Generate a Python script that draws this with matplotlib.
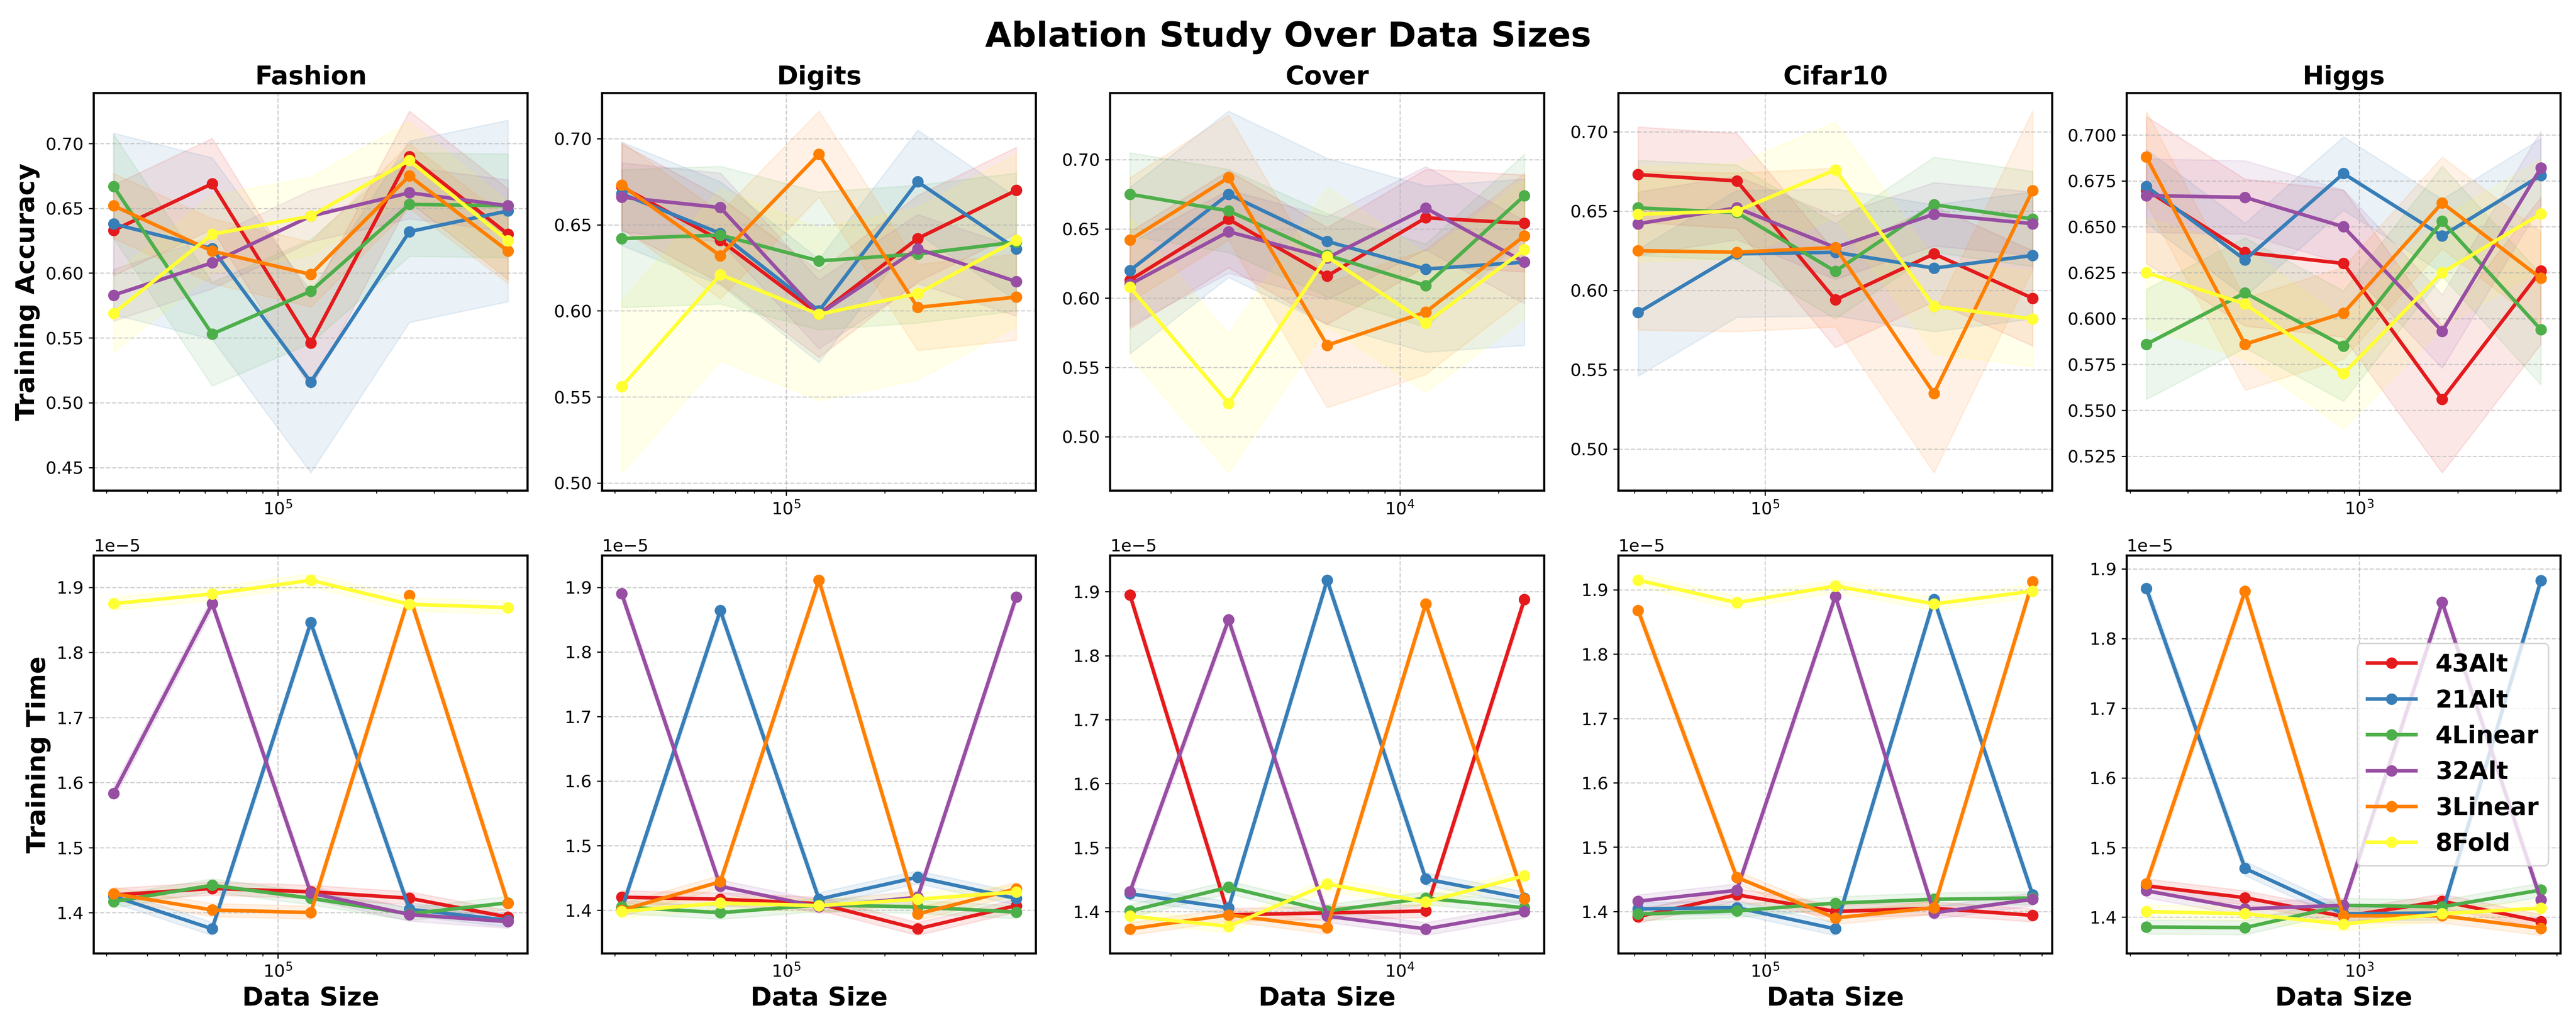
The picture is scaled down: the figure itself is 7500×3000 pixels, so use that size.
import numpy as np
import matplotlib.pyplot as plt

datasets = ['Fashion', 'Digits', 'Cover', 'Cifar10', 'Higgs']
models = ['43Alt', '21Alt', '4Linear', '32Alt', '3Linear', '8Fold']
colors = ['#e41a1c', '#377eb8', '#4daf4a', '#984ea3', '#ff7f00', '#ffff33']

sizes = {
    'Fashion': [31500, 63000, 126000, 252000, 504000],
    'Digits': [31500, 63000, 126000, 252000, 504000],
    'Cover': [1500, 3000, 6000, 12000, 24000],
    'Cifar10': [41000, 82000, 164000, 328000, 656000],
    'Higgs': [224, 448, 895, 1790, 3580],
}

acc = {
    'Fashion': [[.633, .669, .546, .690, .630], [.638, .619, .516, .632, .648],
                [.667, .553, .586, .653, .652], [.583, .608, .644, .662, .652],
                [.652, .617, .599, .675, .617], [.569, .630, .644, .687, .625]],
    'Digits': [[.672, .641, .598, .642, .670], [.668, .645, .600, .675, .636],
               [.642, .644, .629, .633, .640], [.666, .660, .598, .636, .617],
               [.673, .632, .691, .602, .608], [.556, .621, .598, .610, .641]],
    'Cover': [[.613, .657, .616, .658, .654], [.620, .675, .641, .621, .626],
              [.675, .663, .631, .609, .674], [.610, .648, .629, .665, .626],
              [.642, .687, .566, .590, .645], [.608, .524, .630, .582, .635]],
    'Cifar10': [[.673, .669, .594, .623, .595], [.586, .623, .624, .614, .622],
                [.652, .649, .612, .654, .645], [.642, .652, .627, .648, .642],
                [.625, .624, .627, .535, .663], [.648, .650, .676, .590, .582]],
    'Higgs': [[.670, .636, .630, .556, .626], [.672, .632, .679, .645, .678],
              [.586, .614, .585, .653, .594], [.667, .666, .650, .593, .682],
              [.688, .586, .603, .663, .622], [.625, .608, .570, .625, .657]],
}
acc_spread = {
    'Fashion': [0.035, 0.07, 0.04, 0.02, 0.025, 0.03],
    'Digits': [0.025, 0.03, 0.04, 0.02, 0.025, 0.05],
    'Cover': [0.035, 0.06, 0.03, 0.03, 0.045, 0.05],
    'Cifar10': [0.03, 0.04, 0.03, 0.02, 0.05, 0.03],
    'Higgs': [0.04, 0.02, 0.03, 0.02, 0.025, 0.03],
}

time = {
    'Fashion': [[1.427, 1.437, 1.432, 1.422, 1.393], [1.425, 1.375, 1.846, 1.405, 1.388],
                [1.417, 1.442, 1.422, 1.398, 1.415], [1.583, 1.875, 1.430, 1.397, 1.386],
                [1.429, 1.404, 1.400, 1.888, 1.414], [1.875, 1.890, 1.911, 1.874, 1.869]],
    'Digits': [[1.420, 1.417, 1.410, 1.371, 1.407], [1.402, 1.864, 1.417, 1.451, 1.418],
               [1.405, 1.396, 1.408, 1.405, 1.397], [1.890, 1.437, 1.405, 1.420, 1.885],
               [1.400, 1.444, 1.911, 1.394, 1.433], [1.398, 1.411, 1.407, 1.417, 1.428]],
    'Cover': [[1.895, 1.395, 1.398, 1.401, 1.888], [1.428, 1.406, 1.918, 1.451, 1.421],
              [1.401, 1.438, 1.401, 1.421, 1.406], [1.431, 1.856, 1.393, 1.373, 1.400],
              [1.373, 1.395, 1.375, 1.881, 1.420], [1.393, 1.377, 1.443, 1.415, 1.456]],
    'Cifar10': [[1.392, 1.426, 1.400, 1.405, 1.394], [1.404, 1.406, 1.373, 1.885, 1.426],
                [1.396, 1.401, 1.413, 1.419, 1.421], [1.416, 1.433, 1.890, 1.398, 1.419],
                [1.868, 1.453, 1.390, 1.406, 1.913], [1.915, 1.880, 1.906, 1.878, 1.898]],
    'Higgs': [[1.445, 1.428, 1.401, 1.423, 1.394], [1.872, 1.470, 1.405, 1.406, 1.883],
              [1.386, 1.385, 1.417, 1.415, 1.439], [1.438, 1.412, 1.417, 1.852, 1.425],
              [1.448, 1.868, 1.402, 1.402, 1.384], [1.408, 1.405, 1.390, 1.405, 1.413]],
}
time_spread = 0.01

fig, axes = plt.subplots(2, 5, figsize=(25, 10))

for j, ds in enumerate(datasets):
    x = np.array(sizes[ds])
    for row in range(2):
        ax = axes[row, j]
        for k, m in enumerate(models):
            if row == 0:
                y = np.array(acc[ds][k])
                s = acc_spread[ds][k]
            else:
                y = np.array(time[ds][k]) * 1e-5
                s = time_spread * 1e-5
            ax.plot(x, y, '-o', color=colors[k], lw=2.5, ms=7, label=m)
            ax.fill_between(x, y - s, y + s, color=colors[k], alpha=0.1)
        ax.set_xscale('log')
        ax.grid(True, linestyle='--', alpha=0.6)
        ax.tick_params(labelsize=12)
        for sp in ax.spines.values():
            sp.set_linewidth(1.5)
    axes[0, j].set_title(ds, fontsize=18, fontweight='bold')
    axes[1, j].set_xlabel('Data Size', fontsize=18, fontweight='bold')
    axes[1, j].yaxis.get_offset_text().set_fontsize(12)

axes[0, 0].set_ylabel('Training Accuracy', fontsize=18, fontweight='bold')
axes[1, 0].set_ylabel('Training Time', fontsize=18, fontweight='bold')
axes[1, 4].legend(loc='center right', prop={'size': 17, 'weight': 'bold'})

fig.suptitle('Ablation Study Over Data Sizes', fontsize=24, fontweight='bold')
fig.tight_layout()
fig.savefig('out.png', dpi=300)
